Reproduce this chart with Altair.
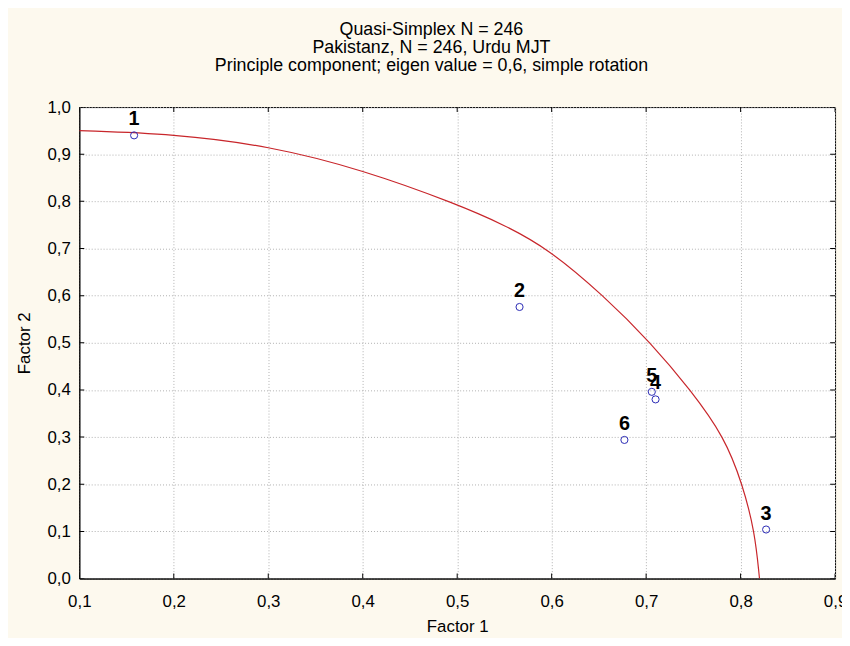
import altair as alt
import pandas as pd

# ---- data ----
ids = ["1", "2", "3", "4", "5", "6"]
factor1 = [0.158, 0.566, 0.827, 0.710, 0.706, 0.677]
factor2 = [0.940, 0.576, 0.104, 0.380, 0.396, 0.294]

# red fitted curve
curve_x = [0.10, 0.20, 0.30, 0.40, 0.50, 0.55, 0.596, 0.655, 0.705, 0.747, 0.783, 0.802, 0.815, 0.82]
curve_y = [0.950, 0.943, 0.918, 0.867, 0.794, 0.750, 0.700, 0.600, 0.500, 0.400, 0.300, 0.200, 0.100, 0.000]

x_ticks = [0.1, 0.2, 0.3, 0.4, 0.5, 0.6, 0.7, 0.8, 0.9]
y_ticks = [0.0, 0.1, 0.2, 0.3, 0.4, 0.5, 0.6, 0.7, 0.8, 0.9, 1.0]

title_lines = [
    "Quasi-Simplex N = 246",
    "Pakistanz, N = 246, Urdu MJT",
    "Principle component; eigen value = 0,6, simple rotation",
]

FONT = "Liberation Sans"
W, H = 763, 476

pts = pd.DataFrame({"id": ids, "f1": factor1, "f2": factor2})
curve = pd.DataFrame({"cx": curve_x, "cy": curve_y})
xt = pd.DataFrame({"v": x_ticks})
yt = pd.DataFrame({"v": y_ticks})

xscale = alt.Scale(domain=[0.1, 0.9], nice=False, zero=False)
yscale = alt.Scale(domain=[0.0, 1.0], nice=False, zero=False)
lab = "replace(format(datum.value, '.1f'), '.', ',')"

xaxis = alt.Axis(
    title="Factor 1", values=x_ticks, labelExpr=lab, grid=True,
    gridDash=[1, 2], gridColor="#b0b0b0", gridWidth=1, ticks=False,
    domainColor="#000000", labelFont=FONT, labelFontSize=17, labelColor="#000000",
    labelPadding=15, labelFlush=False, labelOverlap=False,
    titleFont=FONT, titleFontSize=17, titleFontWeight="normal", titleColor="#000000",
    titleX=W / 2, titleY=53, titleBaseline="alphabetic", titleAlign="center",
)
yaxis = alt.Axis(
    title="Factor 2", values=y_ticks, labelExpr=lab, grid=True,
    gridDash=[1, 2], gridColor="#b0b0b0", gridWidth=1, ticks=False,
    domainColor="#000000", labelFont=FONT, labelFontSize=17, labelColor="#000000",
    labelPadding=9, labelFlush=False, labelOverlap=False,
    titleFont=FONT, titleFontSize=17, titleFontWeight="normal", titleColor="#000000",
    titleX=-55, titleY=H / 2, titleAngle=270, titleAlign="center", titleBaseline="middle",
)

curve_layer = alt.Chart(curve).mark_line(
    color="#c8262b", strokeWidth=1.2, interpolate="basis", clip=True
).encode(
    x=alt.X("cx:Q", scale=xscale, axis=xaxis),
    y=alt.Y("cy:Q", scale=yscale, axis=yaxis),
)

points_layer = alt.Chart(pts).mark_point(
    shape="circle", filled=False, size=52, color="#2a2ab4", strokeWidth=1, opacity=1
).encode(x=alt.X("f1:Q", scale=xscale), y=alt.Y("f2:Q", scale=yscale))

labels_layer = alt.Chart(pts).mark_text(
    font=FONT, fontSize=20, fontWeight="bold", color="#000000",
    align="center", baseline="alphabetic", dy=-10
).encode(x=alt.X("f1:Q", scale=xscale), y=alt.Y("f2:Q", scale=yscale), text="id:N")

tick_style = dict(color="#000000", size=10, thickness=1, clip=True, opacity=1)
xt_bottom = alt.Chart(xt).mark_tick(orient="vertical", **tick_style).encode(
    x=alt.X("v:Q", scale=xscale), y=alt.value(H))
xt_top = alt.Chart(xt).mark_tick(orient="vertical", **tick_style).encode(
    x=alt.X("v:Q", scale=xscale), y=alt.value(0))
yt_left = alt.Chart(yt).mark_tick(orient="horizontal", **tick_style).encode(
    y=alt.Y("v:Q", scale=yscale), x=alt.value(0))
yt_right = alt.Chart(yt).mark_tick(orient="horizontal", **tick_style).encode(
    y=alt.Y("v:Q", scale=yscale), x=alt.value(W))

chart = alt.layer(
    curve_layer, xt_bottom, xt_top, yt_left, yt_right, points_layer, labels_layer
).properties(
    width=W, height=H,
    autosize=alt.AutoSizeParams(type="none"),
    padding={"left": 72, "top": 97, "right": 7, "bottom": 57},
    title=alt.TitleParams(
        text=title_lines, font=FONT, fontSize=18, lineHeight=18.5,
        fontWeight="normal", color="#000000", anchor="middle", dx=-26, offset=23,
    ),
).configure(
    background="#fdf9ee",
).configure_view(
    fill="#ffffff", stroke="#000000", strokeWidth=1,
)

chart.save("out.html", embed_options={"renderer": "svg", "actions": False})
